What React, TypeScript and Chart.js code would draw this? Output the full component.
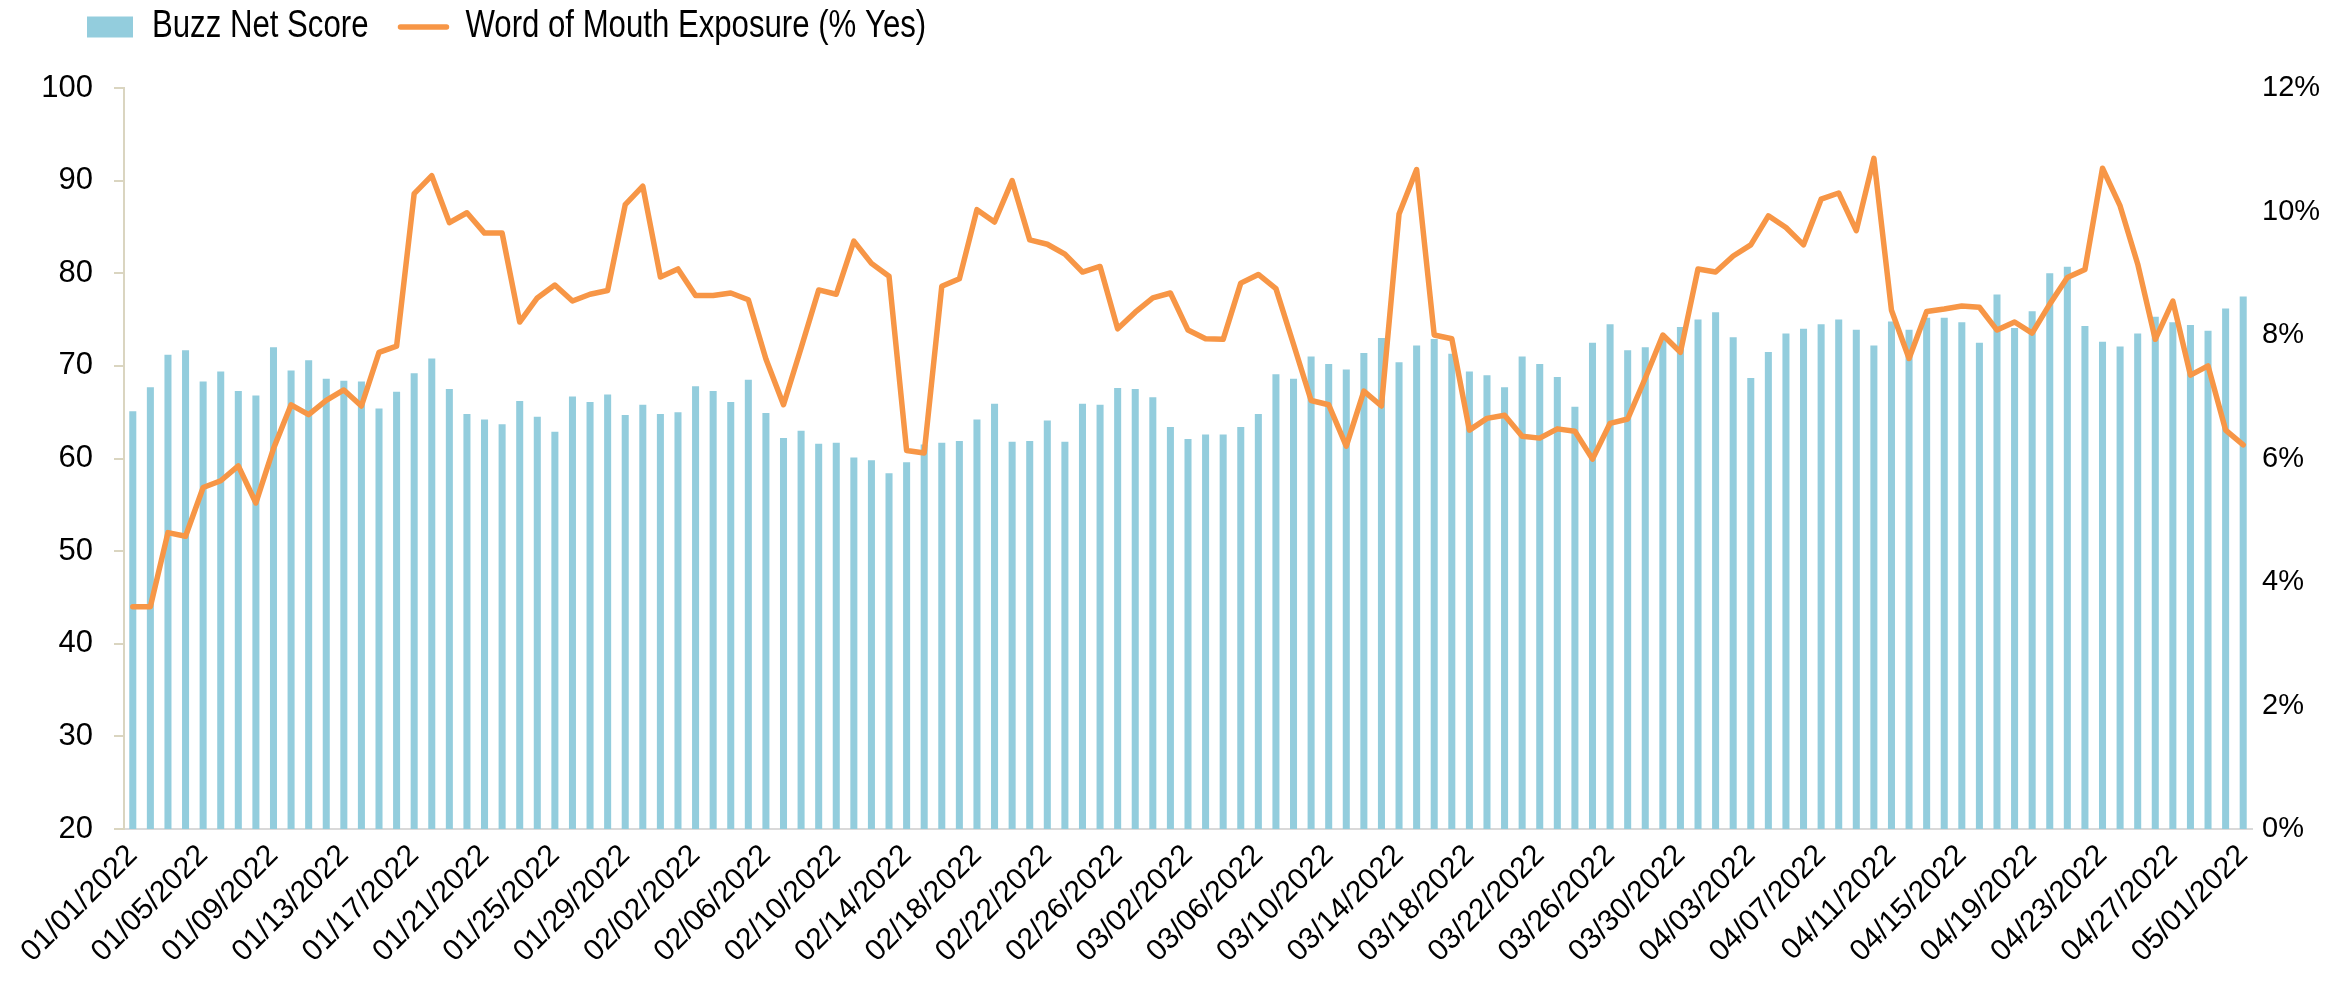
import React, { useEffect, useRef } from 'react';
import { Chart, registerables } from 'chart.js';

Chart.register(...registerables);

// Category labels: one per day, 01/01/2022 .. 05/01/2022
const MONTH_LENGTHS = [31, 28, 31, 30];
const pad2 = (n: number) => (n < 10 ? '0' + n : '' + n);
const dateLabels: string[] = [];
MONTH_LENGTHS.forEach((len, m) => {
  for (let d = 1; d <= len; d++) dateLabels.push(`${pad2(m + 1)}/${pad2(d)}/2022`);
});
dateLabels.push('05/01/2022');

const buzzNetScore = [
  65.1, 67.7, 71.2, 71.7, 68.3, 69.4, 67.3, 66.8, 72.0, 69.5,
  70.6, 68.6, 68.4, 68.3, 65.4, 67.2, 69.2, 70.8, 67.5, 64.8,
  64.2, 63.7, 66.2, 64.5, 62.9, 66.7, 66.1, 66.9, 64.7, 65.8,
  64.8, 65.0, 67.8, 67.3, 66.1, 68.5, 64.9, 62.2, 63.0, 61.6,
  61.7, 60.1, 59.8, 58.4, 59.6, 61.5, 61.7, 61.9, 64.2, 65.9,
  61.8, 61.9, 64.1, 61.8, 65.9, 65.8, 67.6, 67.5, 66.6, 63.4,
  62.1, 62.6, 62.6, 63.4, 64.8, 69.1, 68.6, 71.0, 70.2, 69.6,
  71.4, 73.0, 70.4, 72.2, 72.9, 71.3, 69.4, 69.0, 67.7, 71.0,
  70.2, 68.8, 65.6, 72.5, 74.5, 71.7, 72.0, 72.8, 74.2, 75.0,
  75.8, 73.1, 68.7, 71.5, 73.5, 74.0, 74.5, 75.0, 73.9, 72.2,
  74.8, 73.9, 75.2, 75.2, 74.7, 72.5, 77.7, 74.1, 75.9, 80.0,
  80.7, 74.3, 72.6, 72.1, 73.5, 75.3, 74.7, 74.4, 73.8, 76.2,
  77.5,
];

// Word of Mouth Exposure, in percent
const wordOfMouth = [
  3.60, 3.60, 4.80, 4.74, 5.53, 5.64, 5.88, 5.28, 6.16, 6.87,
  6.71, 6.94, 7.11, 6.85, 7.72, 7.82, 10.29, 10.58, 9.82, 9.98,
  9.65, 9.65, 8.21, 8.60, 8.81, 8.55, 8.66, 8.72, 10.11, 10.41,
  8.94, 9.07, 8.64, 8.64, 8.68, 8.57, 7.61, 6.87, 7.79, 8.73,
  8.66, 9.52, 9.16, 8.95, 6.13, 6.09, 8.79, 8.91, 10.03, 9.83,
  10.50, 9.54, 9.47, 9.31, 9.02, 9.11, 8.10, 8.37, 8.60, 8.68,
  8.08, 7.94, 7.93, 8.84, 8.98, 8.75, 7.85, 6.94, 6.87, 6.20,
  7.09, 6.85, 9.96, 10.68, 8.00, 7.94, 6.46, 6.65, 6.70, 6.36,
  6.33, 6.48, 6.44, 5.99, 6.57, 6.64, 7.30, 8.00, 7.72, 9.07,
  9.02, 9.28, 9.46, 9.93, 9.74, 9.46, 10.20, 10.30, 9.69, 10.86,
  8.40, 7.62, 8.38, 8.42, 8.47, 8.45, 8.08, 8.21, 8.03, 8.50,
  8.93, 9.06, 10.70, 10.09, 9.15, 7.93, 8.55, 7.35, 7.50, 6.46,
  6.22,
];

const seriesNames = ['Buzz Net Score', 'Word of Mouth Exposure (% Yes)'];

const BAR_COLOR = '#93CDDD';
const LINE_COLOR = '#F79646';
const AXIS_BEIGE = '#DAD5C0';
const AXIS_GREY = '#D9D9D9';
const FONT = "'Liberation Sans', Arial, sans-serif";
// No narrow face is installed: text whose font names "Narrow" is condensed horizontally
const NARROW_FONT = "'Liberation Sans Narrow', 'Liberation Sans', sans-serif";
const SQUEEZE = 0.82;

function condenseNarrowText(ctx: any) {
  const origFill = ctx.fillText;
  const origMeasure = ctx.measureText;
  ctx.fillText = function (text: string, x: number, y: number, maxWidth?: number) {
    if (String(this.font).indexOf('Narrow') < 0) {
      return maxWidth === undefined
        ? origFill.call(this, text, x, y)
        : origFill.call(this, text, x, y, maxWidth);
    }
    this.save();
    this.translate(x, y);
    this.scale(SQUEEZE, 1);
    origFill.call(this, text, 0, 0);
    this.restore();
  };
  ctx.measureText = function (text: string) {
    const m = origMeasure.call(this, text);
    if (String(this.font).indexOf('Narrow') < 0) return m;
    return {
      width: m.width * SQUEEZE,
      actualBoundingBoxAscent: m.actualBoundingBoxAscent,
      actualBoundingBoxDescent: m.actualBoundingBoxDescent,
      actualBoundingBoxLeft: m.actualBoundingBoxLeft * SQUEEZE,
      actualBoundingBoxRight: m.actualBoundingBoxRight * SQUEEZE,
      fontBoundingBoxAscent: m.fontBoundingBoxAscent,
      fontBoundingBoxDescent: m.fontBoundingBoxDescent,
    };
  };
}

// Shifts the top legend to the right without moving the axes
const legendOffset = {
  id: 'legendOffset',
  afterLayout(chart: any) {
    if (chart.legend) chart.legend.left = 55;
  },
};

export default function App() {
  const canvasRef = useRef<HTMLCanvasElement | null>(null);

  useEffect(() => {
    const canvas = canvasRef.current;
    if (!canvas) return;
    const ctx = canvas.getContext('2d');
    if (!ctx) return;
    condenseNarrowText(ctx);
    const chart = new Chart(ctx, {
      type: 'bar',
      data: {
        labels: dateLabels,
        datasets: [
          {
            type: 'bar',
            label: seriesNames[0],
            data: buzzNetScore,
            backgroundColor: BAR_COLOR,
            borderWidth: 0,
            barPercentage: 0.4,
            categoryPercentage: 1,
            yAxisID: 'y',
            order: 2,
          },
          {
            type: 'line',
            label: seriesNames[1],
            data: wordOfMouth,
            borderColor: LINE_COLOR,
            backgroundColor: LINE_COLOR,
            borderWidth: 5.5,
            pointRadius: 0,
            tension: 0,
            borderJoinStyle: 'round',
            borderCapStyle: 'round',
            yAxisID: 'y1',
            order: 1,
          },
        ],
      },
      plugins: [legendOffset],
      options: {
        responsive: false,
        animation: false,
        layout: { padding: { left: 0, top: -24, right: 0, bottom: 0 } },
        plugins: {
          tooltip: { enabled: false },
          legend: {
            position: 'top',
            align: 'start',
            labels: {
              usePointStyle: true,
              pointStyleWidth: 46,
              boxHeight: 21,
              padding: 32,
              color: '#000',
              font: { family: NARROW_FONT, size: 38 },
              generateLabels: () => [
                {
                  text: seriesNames[0],
                  fillStyle: BAR_COLOR,
                  strokeStyle: BAR_COLOR,
                  lineWidth: 0,
                  pointStyle: 'rect',
                  datasetIndex: 0,
                  hidden: false,
                },
                {
                  text: seriesNames[1],
                  fillStyle: LINE_COLOR,
                  strokeStyle: LINE_COLOR,
                  lineWidth: 5.5,
                  lineCap: 'round',
                  pointStyle: 'line',
                  datasetIndex: 1,
                  hidden: false,
                },
              ],
            },
          },
        },
        scales: {
          x: {
            type: 'category',
            position: 'bottom',
            offset: true,
            grid: { display: false },
            border: { display: true, color: AXIS_GREY, width: 2 },
            ticks: {
              autoSkip: false,
              minRotation: 45,
              maxRotation: 45,
              padding: 1,
              color: '#000',
              font: { family: FONT, size: 30 },
              callback: function (this: any, value: any, index: number) {
                return index % 4 === 0 ? this.getLabelForValue(value) : '';
              },
            },
            afterFit: (s: any) => {
              s.height = 153;
            },
          },
          xTop: {
            type: 'category',
            position: 'top',
            display: true,
            grid: { display: false },
            border: { display: false },
            ticks: { display: false },
            afterFit: (s: any) => {
              s.height = 32;
            },
          },
          y: {
            type: 'linear',
            position: 'left',
            min: 20,
            max: 100,
            grid: {
              display: true,
              drawOnChartArea: false,
              drawTicks: true,
              tickLength: 10,
              color: AXIS_BEIGE,
              lineWidth: 2,
            },
            border: { display: true, color: AXIS_BEIGE, width: 2 },
            ticks: {
              stepSize: 10,
              padding: 21,
              color: '#000',
              font: { family: FONT, size: 31 },
            },
            afterFit: (s: any) => {
              s.width = 124;
            },
          },
          y1: {
            type: 'linear',
            position: 'right',
            min: 0,
            max: 12,
            grid: { display: false, drawTicks: false },
            border: { display: false },
            ticks: {
              stepSize: 2,
              padding: 10,
              color: '#000',
              font: { family: FONT, size: 29 },
              callback: (v: any) => `${v}%`,
            },
            afterFit: (s: any) => {
              s.width = 97;
            },
          },
        },
      },
    } as any);
    return () => chart.destroy();
  }, []);

  return (
    <div style={{ position: 'fixed', left: 0, top: 0, width: 2349, height: 982, background: '#fff' }}>
      <canvas ref={canvasRef} width={2349} height={982} />
    </div>
  );
}
